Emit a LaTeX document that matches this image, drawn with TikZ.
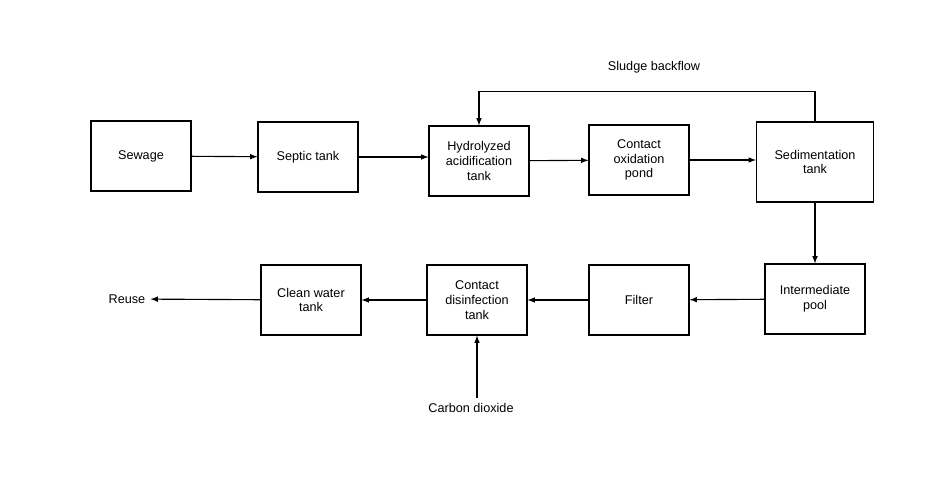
\documentclass[tikz,border=0pt]{standalone}
\usepackage{fontspec}
\setmainfont{Liberation Sans}
\usetikzlibrary{positioning}
\begin{document}
\begin{tikzpicture}[x=0.025cm, y=-0.025cm,
      every node/.style = {align=center, font=\fontsize{9}{10.5}\selectfont},
      every path/.style = {line width=0.8pt},
      flow/.style = {draw, -latex},
      unit/.style = {draw, minimum width=2.5cm, minimum height=1.75cm, inner sep=1pt}
    ]
    \useasboundingbox (0,0) rectangle (934,491);
    \node (sewage)      at (141,156) [unit] {Sewage};
    \node (septic)      at (308,157) [unit] {Septic tank};
    \node (hydro)       at (479,161) [unit] {Hydrolyzed\\acidification\\tank};
    \node (oxidation)   at (639,160) [unit] {Contact\\oxidation\\pond};
    \node (sediment)    at (815,162) [unit, minimum width=2.925cm, minimum height=2cm] {Sedimentation\\tank};
    \node (intermediate) at (815,299) [unit] {Intermediate\\pool};
    \node (filter)      at (639,300) [unit] {Filter};
    \node (disinfect)   at (477,300) [unit] {Contact\\disinfection\\tank};
    \node (cleanwater)  at (311,300) [unit] {Clean water\\tank};
    \node (reuse)       at (127,299) {Reuse};
    \node (carbon)      at (471,408) {Carbon dioxide};
    \node (backflow)    at (654,67)  {Sludge backflow};

    \draw[flow] (sewage)       to (septic);
    \draw[flow] (septic)       to (septic -| hydro.west);
    \draw[flow] (hydro)        to (oxidation);
    \draw[flow] (oxidation)    to (oxidation -| sediment.west);
    \draw[flow] (sediment)     to (intermediate);
    \draw[flow] (intermediate) to (filter);
    \draw[flow] (filter)       to (disinfect);
    \draw[flow] (disinfect)    to (cleanwater);
    \draw[flow] (cleanwater)   to (reuse);
    \draw[flow] (carbon.north -| disinfect) to (disinfect);
    \draw[flow] (sediment.north) -- ++(0,-30) -| (hydro.north);
  \end{tikzpicture}
\end{document}
